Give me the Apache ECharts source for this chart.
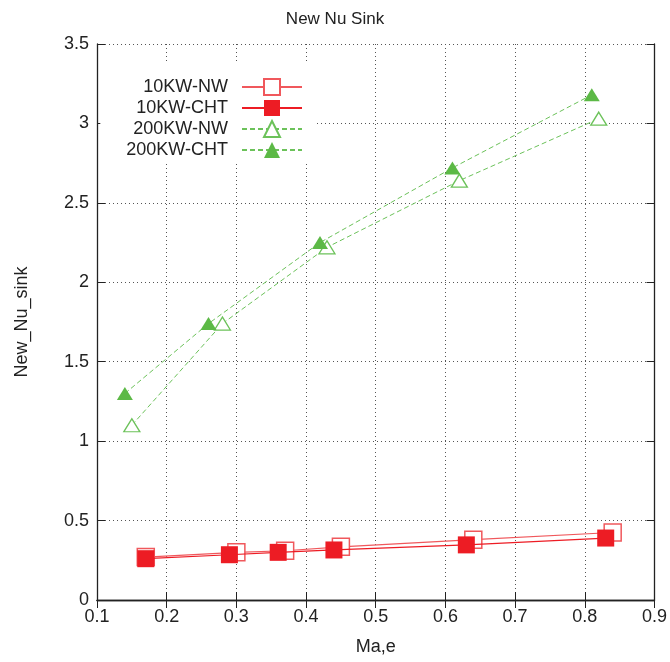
<!DOCTYPE html>
<html>
<head>
<meta charset="utf-8">
<script src="https://cdn.jsdelivr.net/npm/echarts@6/dist/echarts.min.js"></script>
<style>html,body{margin:0;padding:0;background:#fff}#c{width:670px;height:662px}</style>
</head>
<body>
<div id="c"></div>
<script>
// ---- data ----
var nw10_x  = [0.17, 0.30, 0.37, 0.45, 0.64, 0.84];
var nw10_y  = [0.27, 0.30, 0.31, 0.335, 0.38, 0.425];
var cht10_x = [0.17, 0.29, 0.36, 0.44, 0.63, 0.83];
var cht10_y = [0.26, 0.285, 0.30, 0.315, 0.347, 0.39];
var nw200_x  = [0.15, 0.28, 0.43, 0.62, 0.82];
var nw200_y  = [1.10, 1.74, 2.22, 2.64, 3.03];
var cht200_x = [0.14, 0.26, 0.42, 0.61, 0.81];
var cht200_y = [1.30, 1.74, 2.25, 2.72, 3.18];
var seriesNames = ['10KW-NW', '10KW-CHT', '200KW-NW', '200KW-CHT'];
var xTicks = {min: 0.1, max: 0.9, step: 0.1};
var yTicks = {min: 0, max: 3.5, step: 0.5};

function pairs(xs, ys) { return xs.map(function (x, i) { return [x, ys[i]]; }); }

var FONT = 'Liberation Sans';
var RED = '#ed1c24', RED_L = '#f0585c';
var GREEN = '#5cb946', GREEN_L = '#6cc25a';

var chart = echarts.init(document.getElementById('c'), null, {renderer: 'canvas'});

function axisCommon(show) {
  return {
    axisLine: {show: true, lineStyle: {color: '#222', width: 1.3}},
    axisTick: {show: true, inside: true, length: 8, lineStyle: {color: '#222'}},
    axisLabel: {show: show, color: '#222', fontFamily: FONT, fontSize: 18},
  };
}

var option = {
  animation: false,
  backgroundColor: '#fff',
  title: {
    text: 'New Nu Sink', left: 'center', top: 6,
    textStyle: {fontFamily: FONT, fontSize: 17, fontWeight: 'normal', color: '#222'}
  },
  grid: {left: 97, right: 11, top: 44, bottom: 62},
  legend: {
    orient: 'vertical', align: 'right', right: 354, top: 64,
    backgroundColor: '#fff', padding: [14, 13, 2, 26],
    itemWidth: 60, itemHeight: 20, itemGap: 3,
    textStyle: {fontFamily: FONT, fontSize: 18, color: '#222', padding: [0, 9, 0, 0]},
    data: seriesNames
  },
  xAxis: [
    Object.assign({
      type: 'value', min: xTicks.min, max: xTicks.max, interval: xTicks.step,
      name: 'Ma,e', nameLocation: 'middle', nameGap: 38,
      nameTextStyle: {fontFamily: FONT, fontSize: 18, color: '#222'},
      splitLine: {show: true, lineStyle: {color: '#555', type: [1, 3], width: 1}}
    }, axisCommon(true)),
    Object.assign({
      type: 'value', position: 'top', min: xTicks.min, max: xTicks.max, interval: xTicks.step,
      splitLine: {show: false}
    }, axisCommon(false))
  ],
  yAxis: [
    Object.assign({
      type: 'value', min: yTicks.min, max: yTicks.max, interval: yTicks.step,
      name: 'New_Nu_sink', nameLocation: 'middle', nameGap: 66,
      nameTextStyle: {fontFamily: FONT, fontSize: 18, color: '#222'},
      splitLine: {show: true, lineStyle: {color: '#555', type: [1, 3], width: 1}}
    }, axisCommon(true)),
    Object.assign({
      type: 'value', position: 'right', min: yTicks.min, max: yTicks.max, interval: yTicks.step,
      splitLine: {show: false}
    }, axisCommon(false))
  ],
  series: [
    {
      name: seriesNames[0], type: 'line', data: pairs(nw10_x, nw10_y),
      symbol: 'rect', symbolSize: 17,
      itemStyle: {color: '#fff', borderColor: RED_L, borderWidth: 1.5},
      lineStyle: {color: RED_L, width: 1.2}, z: 2
    },
    {
      name: seriesNames[1], type: 'line', data: pairs(cht10_x, cht10_y),
      symbol: 'rect', symbolSize: 17,
      itemStyle: {color: RED, borderWidth: 0},
      lineStyle: {color: RED, width: 1.2}, z: 3
    },
    {
      name: seriesNames[2], type: 'line', data: pairs(nw200_x, nw200_y),
      symbol: 'triangle', symbolSize: [16, 13],
      itemStyle: {color: '#fff', borderColor: GREEN_L, borderWidth: 1.3},
      lineStyle: {color: GREEN_L, width: 1, type: [5, 3]}, z: 2
    },
    {
      name: seriesNames[3], type: 'line', data: pairs(cht200_x, cht200_y),
      symbol: 'triangle', symbolSize: [16, 13],
      itemStyle: {color: GREEN, borderWidth: 0},
      lineStyle: {color: GREEN_L, width: 1, type: [5, 3]}, z: 3
    }
  ]
};
chart.setOption(option);
</script>
</body>
</html>
